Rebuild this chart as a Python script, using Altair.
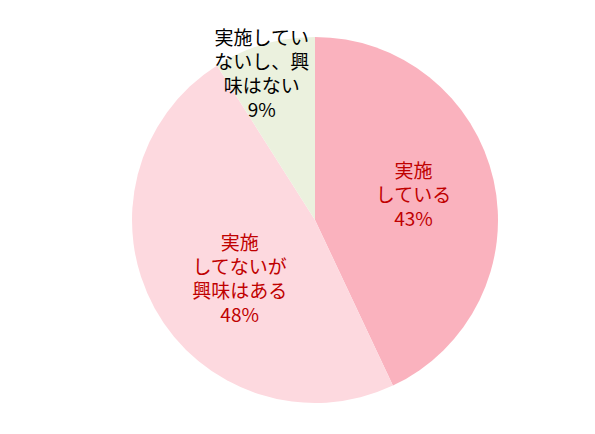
import altair as alt
import pandas as pd

categories = ["実施\nしている", "実施\nしてないが\n興味はある", "実施してい\nないし、興\n味はない"]
values = [43, 48, 9]
pct_labels = ["43%", "48%", "9%"]
order = [1, 2, 3]

df = pd.DataFrame({
    "category": categories,
    "value": values,
    "pct": pct_labels,
    "order": order,
})
df["label"] = df["category"] + "\n" + df["pct"]

colors = ["#FAB2BE", "#FDD9DF", "#EBF1DE"]

base = alt.Chart(df)

pie = base.mark_arc(stroke=None).encode(
    theta=alt.Theta("value:Q", stack=True),
    color=alt.Color("category:N", scale=alt.Scale(domain=categories, range=colors), legend=None),
    order=alt.Order("order:Q"),
)

def label_layer(idx, radius, dx, dy, color):
    return base.transform_window(
        cum="sum(value)", sort=[alt.SortField("order")], frame=[None, 0]
    ).transform_calculate(
        mid="datum.cum - datum.value / 2"
    ).transform_filter(
        alt.datum.order == order[idx]
    ).mark_text(
        font="Noto Sans CJK JP", fontSize=19, lineBreak="\n", lineHeight=24,
        align="center", baseline="middle", dx=dx, dy=dy, color=color,
    ).encode(
        theta=alt.Theta("mid:Q", stack=None, scale=alt.Scale(domain=[0, 100])),
        radius=alt.value(radius),
        text="label:N",
    )

l1 = label_layer(0, 101, 0, -26, "#C00000")
l2 = label_layer(1, 94, 7, -21, "#C00000")
l3 = label_layer(2, 155, -10, -32, "#000000")

chart = alt.layer(pie, l1, l2, l3).resolve_scale(theta="independent").properties(
    width=366, height=366,
    padding={"left": 124, "top": 29, "right": 60, "bottom": 10},
    autosize=alt.AutoSizeParams(type="none"),
).configure_view(stroke=None).configure(background="white")

chart.save("out.html", embed_options={"renderer": "svg", "actions": False})
